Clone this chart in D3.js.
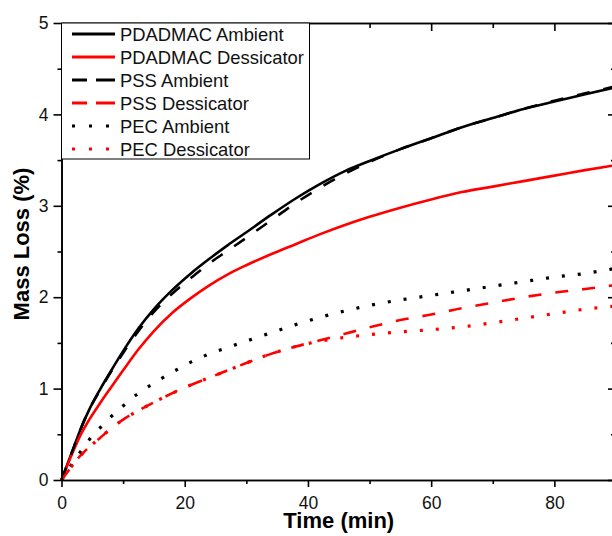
<!DOCTYPE html>
<html>
  <head>
    <title>Mass Loss</title>
    <meta charset="utf-8">
    <style>
      body { margin: 0; background-color: white; }
      svg { display: block; }
      .axis text { font: 17.5px Arial, "Liberation Sans", sans-serif; fill: #111; }
      .axis path, .axis line { fill: none; stroke: #000; stroke-width: 1.6px; }
      .title { font: bold 22px Arial, "Liberation Sans", sans-serif; fill: #000; }
      .legendText { font: 18.4px Arial, "Liberation Sans", sans-serif; fill: #111; }
    </style>
  </head>
  <body>
  <svg class="graph"></svg>
  <script src="https://d3js.org/d3.v7.min.js"></script>
  <script>
    // time (min)
    var times = [0, 1, 2, 3, 4.5, 6.25, 8, 10, 12.5, 15, 18, 21, 24, 27, 30, 34, 38, 42, 46, 50, 55, 60, 65, 70, 75, 80, 85, 89.5];

    // mass loss (%)
    var pdadmacAmbient    = [0, 0.18, 0.36, 0.54, 0.77, 0.99, 1.19, 1.41, 1.66, 1.87, 2.08, 2.26, 2.42, 2.57, 2.71, 2.90, 3.08, 3.24, 3.38, 3.49, 3.62, 3.74, 3.86, 3.96, 4.06, 4.14, 4.22, 4.29];
    var pdadmacDessicator = [0, 0.17, 0.33, 0.48, 0.66, 0.84, 1.01, 1.20, 1.43, 1.63, 1.83, 1.99, 2.13, 2.25, 2.35, 2.47, 2.58, 2.69, 2.79, 2.88, 2.98, 3.07, 3.15, 3.21, 3.27, 3.33, 3.39, 3.44];
    var pssAmbient        = [0, 0.18, 0.36, 0.54, 0.77, 0.98, 1.18, 1.39, 1.63, 1.84, 2.04, 2.21, 2.37, 2.51, 2.65, 2.84, 3.03, 3.20, 3.35, 3.48, 3.62, 3.74, 3.86, 3.96, 4.06, 4.15, 4.23, 4.30];
    var pssDessicator     = [0, 0.09, 0.18, 0.26, 0.36, 0.46, 0.56, 0.66, 0.76, 0.85, 0.95, 1.04, 1.12, 1.20, 1.28, 1.38, 1.46, 1.53, 1.60, 1.67, 1.75, 1.81, 1.88, 1.94, 2.00, 2.05, 2.09, 2.13];
    var pecAmbient        = [0, 0.10, 0.21, 0.30, 0.44, 0.57, 0.69, 0.81, 0.95, 1.06, 1.18, 1.29, 1.38, 1.45, 1.52, 1.61, 1.70, 1.78, 1.85, 1.91, 1.97, 2.02, 2.07, 2.12, 2.17, 2.22, 2.26, 2.31];
    var pecDessicator     = [0, 0.09, 0.18, 0.26, 0.36, 0.46, 0.56, 0.66, 0.76, 0.85, 0.95, 1.04, 1.12, 1.20, 1.28, 1.38, 1.46, 1.52, 1.56, 1.59, 1.62, 1.645, 1.675, 1.72, 1.77, 1.82, 1.87, 1.90];

    var seriesNames = ["PDADMAC Ambient", "PDADMAC Dessicator", "PSS Ambient", "PSS Dessicator", "PEC Ambient", "PEC Dessicator"];
    var seriesValues = [pdadmacAmbient, pdadmacDessicator, pssAmbient, pssDessicator, pecAmbient, pecDessicator];

    var xTicks = [0, 20, 40, 60, 80];
    var xMinor = [10, 30, 50, 70, 90];
    var yTicks = [0, 1, 2, 3, 4, 5];
    var yMinor = [0.5, 1.5, 2.5, 3.5, 4.5];

    var colors = ["#000", "#ff0000", "#000", "#ff0000", "#000", "#ff0000"];
    var dashes = [null, null, "13,14", "13,14", "3,13", "3,13"];
    var legendDashes = [null, null, "15,9,19", "15,9,19", "3,14", "3,14"];

    var width = 612, height = 536;
    var plotLeft = 61.5, plotRight = 616, plotTop = 23, plotBottom = 480;

    var svg = d3.select("svg")
      .attr("width", width)
      .attr("height", height);

    var x = d3.scaleLinear().domain([0, 90]).range([plotLeft, plotRight]);
    var y = d3.scaleLinear().domain([0, 5]).range([plotBottom, plotTop]);

    // curves
    var line = d3.line()
      .x(function(d) { return x(d[0]); })
      .y(function(d) { return y(d[1]); })
      .curve(d3.curveMonotoneX);

    seriesValues.forEach(function(vals, i) {
      var pts = times.map(function(t, j) { return [t, vals[j]]; });
      svg.append("path")
        .datum(pts)
        .attr("d", line)
        .attr("fill", "none")
        .attr("stroke", colors[i])
        .attr("stroke-width", i >= 4 ? 3.2 : 2.6)
        .attr("stroke-dasharray", dashes[i]);
    });

    // axes
    function styleAxis(g) {
      g.attr("font-size", null).attr("font-family", null);
    }

    svg.append("g").attr("class", "axis")
      .attr("transform", "translate(0," + plotBottom + ")")
      .call(d3.axisBottom(x).tickValues(xTicks).tickFormat(d3.format("d")).tickSize(7).tickPadding(10).tickSizeOuter(0))
      .call(styleAxis);
    svg.append("g").attr("class", "axis")
      .attr("transform", "translate(0," + plotBottom + ")")
      .call(d3.axisBottom(x).tickValues(xMinor).tickSize(4).tickFormat("").tickSizeOuter(0));

    svg.append("g").attr("class", "axis")
      .attr("transform", "translate(" + plotLeft + ",0)")
      .call(d3.axisLeft(y).tickValues(yTicks).tickFormat(d3.format("d")).tickSize(8).tickPadding(5).tickSizeOuter(0))
      .call(styleAxis);
    svg.append("g").attr("class", "axis")
      .attr("transform", "translate(" + plotLeft + ",0)")
      .call(d3.axisLeft(y).tickValues(yMinor).tickSize(4).tickFormat("").tickSizeOuter(0));

    svg.append("g").attr("class", "axis")
      .attr("transform", "translate(0," + plotTop + ")")
      .call(d3.axisTop(x).tickValues(xTicks).tickSize(-8).tickFormat("").tickSizeOuter(0));
    svg.append("g").attr("class", "axis")
      .attr("transform", "translate(0," + plotTop + ")")
      .call(d3.axisTop(x).tickValues(xMinor).tickSize(-5).tickFormat("").tickSizeOuter(0));

    svg.append("g").attr("class", "axis")
      .attr("transform", "translate(" + plotRight + ",0)")
      .call(d3.axisRight(y).tickValues(yTicks).tickSize(-8).tickFormat("").tickSizeOuter(0));
    svg.append("g").attr("class", "axis")
      .attr("transform", "translate(" + plotRight + ",0)")
      .call(d3.axisRight(y).tickValues(yMinor).tickSize(-5).tickFormat("").tickSizeOuter(0));

    // axis titles
    svg.append("text")
      .attr("class", "title")
      .attr("x", (plotLeft + plotRight) / 2)
      .attr("y", 528)
      .style("text-anchor", "middle")
      .text("Time (min)");

    svg.append("text")
      .attr("class", "title")
      .attr("transform", "translate(29,244) rotate(-90)")
      .style("text-anchor", "middle")
      .text("Mass Loss (%)");

    // legend
    var legend = svg.append("g");
    legend.append("rect")
      .attr("x", plotLeft)
      .attr("y", plotTop)
      .attr("width", 248)
      .attr("height", 136)
      .attr("fill", "white")
      .attr("stroke", "#000")
      .attr("stroke-width", 1);

    seriesNames.forEach(function(name, i) {
      var ry = 34 + i * 23;
      legend.append("line")
        .attr("x1", 72).attr("x2", 115)
        .attr("y1", ry).attr("y2", ry)
        .attr("stroke", colors[i])
        .attr("stroke-width", i >= 4 ? 3.2 : 3)
        .attr("stroke-dasharray", legendDashes[i]);
      legend.append("text")
        .attr("class", "legendText")
        .attr("x", 120)
        .attr("y", ry + 6.5)
        .text(name);
    });
  </script>
  </body>
</html>
